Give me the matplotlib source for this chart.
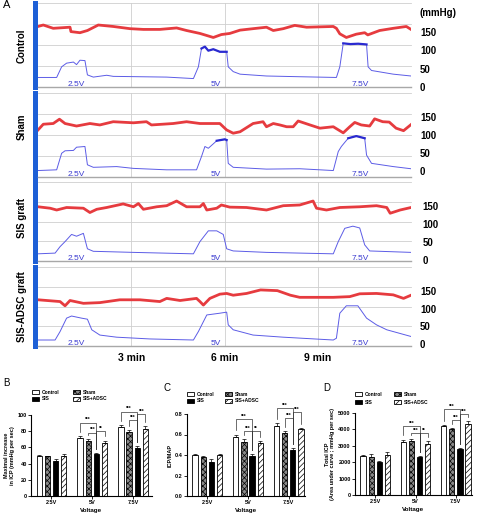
import numpy as np
import matplotlib
matplotlib.use('Agg')
import matplotlib.pyplot as plt
from matplotlib.patches import Rectangle

plt.rcParams['font.family'] = ['Liberation Sans', 'DejaVu Sans']
plt.rcParams['hatch.linewidth'] = 0.5

# ---------------- Panel A data (time in min, pressure in mmHg) ----------------
ctrl_red_t = [0.0, 0.17, 0.49, 1.03, 1.06, 1.35, 1.59, 1.73, 1.94, 2.42, 2.96, 3.39, 3.92, 4.46, 4.78,
              5.21, 5.64, 5.90, 6.17, 6.50, 6.92, 7.35, 7.57, 7.89, 8.26, 8.64, 9.50, 9.60, 9.71, 9.92,
              10.24, 10.51, 10.61, 10.99, 11.43, 11.85, 12.0]
ctrl_red_v = [165, 169, 160, 163, 151, 148, 154, 160, 169, 165, 159, 157, 157, 161, 154,
              146, 135, 143, 146, 155, 159, 163, 154, 159, 168, 163, 165, 160, 145, 135,
              144, 148, 142, 154, 160, 165, 157]
ctrl_blue_t = [0.0, 0.60, 0.76, 0.92, 1.14, 1.24, 1.35, 1.51, 1.59, 1.78, 2.21, 2.42, 3.28, 4.14, 5.0,
               5.16, 5.26, 5.37, 5.48, 5.64, 5.85, 6.07, 6.12, 6.28, 6.50, 7.35, 8.42, 9.60, 9.71, 9.82,
               10.05, 10.30, 10.57, 10.62, 10.73, 11.43, 12.0]
ctrl_blue_v = [26, 26, 55, 65, 68, 61, 73, 72, 33, 27, 32, 29, 28, 27, 23,
               55, 105, 110, 99, 103, 96, 96, 55, 42, 35, 30, 28, 26, 55, 119,
               117, 118, 116, 55, 45, 35, 30]

sham_red_t = [0.0, 0.17, 0.49, 0.69, 0.87, 1.24, 1.67, 1.99, 2.42, 3.07, 3.49, 3.65, 4.35, 4.78, 5.21,
              5.85, 6.07, 6.28, 6.50, 6.92, 7.24, 7.35, 7.57, 7.78, 8.0, 8.21, 8.37, 8.75, 9.07, 9.50,
              9.82, 10.03, 10.19, 10.40, 10.67, 10.83, 11.09, 11.30, 11.52, 11.76, 12.0]
sham_red_v = [114, 130, 132, 144, 132, 125, 132, 128, 137, 134, 137, 128, 132, 137, 132,
              132, 114, 105, 109, 132, 137, 123, 132, 128, 123, 123, 139, 128, 119, 123,
              106, 123, 135, 128, 125, 145, 137, 136, 119, 112, 129]
sham_blue_t = [0.0, 0.60, 0.76, 0.87, 1.14, 1.24, 1.51, 1.59, 1.78, 2.53, 3.07, 4.14, 5.10, 5.26, 5.37,
               5.48, 5.75, 6.01, 6.07, 6.12, 6.28, 7.35, 8.42, 9.50, 9.66, 9.76, 9.98, 10.24, 10.51, 10.57,
               10.73, 11.43, 12.0]
sham_blue_v = [1, 3, 49, 56, 57, 66, 68, 17, 10, 12, 7, 3, 3, 40, 68,
               63, 84, 88, 86, 21, 10, 5, 6, 1, 54, 68, 91, 97, 91, 44,
               21, 12, 6]

sis_red_t = [0.0, 0.39, 0.60, 0.92, 1.46, 1.67, 1.89, 2.21, 2.74, 3.07, 3.23, 3.39, 3.82, 4.14, 4.46,
             4.78, 5.21, 5.32, 5.43, 5.75, 5.90, 6.17, 6.71, 7.35, 7.89, 8.42, 8.85, 8.96, 9.28, 9.71,
             10.35, 10.89, 11.22, 11.33, 11.65, 12.0]
sis_red_v = [148, 144, 139, 146, 144, 132, 141, 146, 156, 148, 157, 141, 148, 151, 164,
             148, 148, 157, 139, 144, 153, 147, 146, 139, 151, 153, 164, 144, 139, 146,
             148, 151, 146, 130, 139, 146]
sis_blue_t = [0.0, 0.55, 0.71, 0.87, 1.08, 1.24, 1.46, 1.59, 1.78, 3.07, 5.0, 5.21, 5.48, 5.75, 5.96,
              6.07, 6.28, 7.35, 9.50, 9.66, 9.87, 10.13, 10.35, 10.51, 10.67, 12.0]
sis_blue_v = [17, 19, 37, 51, 71, 66, 74, 31, 24, 21, 17, 51, 81, 81, 71,
              31, 25, 21, 17, 51, 88, 94, 89, 42, 25, 21]

adsc_red_t = [0.0, 0.71, 0.87, 1.03, 1.46, 1.99, 2.63, 3.28, 3.92, 4.14, 4.57, 5.10, 5.21, 5.32, 5.53,
              5.85, 6.07, 6.28, 6.71, 7.16, 7.70, 8.12, 8.42, 8.96, 9.50, 10.03, 10.35, 10.89, 11.43, 11.76,
              12.0]
adsc_red_v = [125, 120, 108, 123, 115, 117, 125, 125, 120, 129, 123, 129, 120, 110, 129,
              141, 143, 138, 143, 153, 151, 138, 132, 132, 132, 134, 142, 143, 139, 129,
              138]
adsc_blue_t = [0.0, 0.55, 0.71, 0.92, 1.08, 1.40, 1.59, 1.73, 1.99, 2.53, 3.60, 5.0, 5.16, 5.43, 5.85,
               6.07, 6.12, 6.28, 6.92, 7.89, 9.50, 9.60, 9.71, 9.92, 10.29, 10.57, 10.89, 11.22, 12.0]
adsc_blue_v = [11, 11, 35, 73, 79, 73, 70, 40, 25, 19, 14, 11, 35, 82, 87,
               90, 54, 40, 25, 19, 11, 16, 87, 108, 108, 73, 54, 40, 21]

trace_names = ['Control', 'Sham', 'SIS graft', 'SIS-ADSC graft']
stim_labels = ['2.5V', '5V', '7.5V']
stim_times = [0.95, 5.55, 10.1]
time_ticks = [3, 6, 9]
time_tick_labels = ['3 min', '6 min', '9 min']
pressure_ticks = [0, 50, 100, 150]

# ---------------- Panels B, C, D data ----------------
voltages = ['2.5V', '5V', '7.5V']
groups = ['Control', 'Sham', 'SIS', 'SIS+ADSC']

b_control = [50, 72, 85]
b_sham = [49, 68, 79]
b_sis = [43, 52, 59]
b_adsc = [50, 65, 83]
b_control_err = [1.0, 2.0, 3.0]
b_sham_err = [1.0, 2.5, 3.0]
b_sis_err = [3.0, 1.5, 2.5]
b_adsc_err = [1.5, 3.5, 3.0]

c_control = [0.40, 0.58, 0.68]
c_sham = [0.38, 0.53, 0.61]
c_sis = [0.33, 0.39, 0.45]
c_adsc = [0.40, 0.52, 0.65]
c_control_err = [0.01, 0.02, 0.03]
c_sham_err = [0.01, 0.025, 0.025]
c_sis_err = [0.03, 0.015, 0.02]
c_adsc_err = [0.01, 0.02, 0.01]

d_control = [2400, 3250, 4180]
d_sham = [2330, 3280, 4020]
d_sis = [2000, 2320, 2800]
d_adsc = [2450, 3120, 4330]
d_control_err = [60, 130, 80]
d_sham_err = [150, 130, 60]
d_sis_err = [80, 80, 80]
d_adsc_err = [150, 180, 200]

# significance: (voltage index, group i, group j, bracket height, label)
b_sig = [(1, 0, 2, 90.5, '***'), (1, 1, 2, 78, '***'), (1, 2, 3, 80, '**'),
         (2, 0, 2, 104, '***'), (2, 1, 2, 94, '***'), (2, 2, 3, 101, '***')]
c_sig = [(1, 0, 2, 0.75, '***'), (1, 1, 2, 0.63, '***'), (1, 2, 3, 0.63, '**'),
         (2, 0, 2, 0.86, '***'), (2, 1, 2, 0.76, '***'), (2, 2, 3, 0.82, '***')]
d_sig = [(1, 0, 2, 4210, '***'), (1, 1, 2, 3780, '***'), (1, 2, 3, 3780, '**'),
         (2, 0, 2, 5240, '***'), (2, 1, 2, 4570, '***'), (2, 2, 3, 4940, '***')]

# ---------------- figure ----------------
W, H = 479, 516
fig = plt.figure(figsize=(W / 100, H / 100), dpi=100)


def rect(x0, y0, x1, y1):
    return [x0 / W, 1 - y1 / H, (x1 - x0) / W, (y1 - y0) / H]


RED = '#e63b3f'
BLUE = '#5c5ce6'
BAR_BLUE = '#1d5fd6'

trace_data = [
    (ctrl_red_t, ctrl_red_v, ctrl_blue_t, ctrl_blue_v),
    (sham_red_t, sham_red_v, sham_blue_t, sham_blue_v),
    (sis_red_t, sis_red_v, sis_blue_t, sis_blue_v),
    (adsc_red_t, adsc_red_v, adsc_blue_t, adsc_blue_v),
]
panel_px = [(3, 87), (93, 177), (182, 261), (267, 346)]
panel_ylim = [(0, 229), (-17, 217), (-3, 217), (-6, 218)]
label_pad = [6.5, 6.5, 8.5, 6.5]
name_y = [46, 127, 218, 307]

for k in range(4):
    top, bot = panel_px[k]
    ax = fig.add_axes(rect(38, top, 411, bot))
    rt, rv, bt, bv = trace_data[k]
    ax.set_xlim(0, 12)
    ax.set_ylim(*panel_ylim[k])
    # grid
    for f in [0.25, 0.5, 0.75, 1.0]:
        ax.plot([0, 1], [f, f], transform=ax.transAxes, color='#cfcfcf', lw=0.6, zorder=0, clip_on=False)
    for tt in time_ticks:
        ax.axvline(tt, color='#cfcfcf', lw=0.6, zorder=0)
    ax.plot(rt, rv, color=RED, lw=2.0, solid_joinstyle='round', zorder=3)
    ax.plot(bt, bv, color=BLUE, lw=0.7, zorder=2)
    if k < 2:
        bva = np.array(bv, dtype=float)
        thick = np.where(bva > 80, bva, np.nan)
        ax.plot(bt, thick, color='#2a2ad0', lw=1.6, zorder=2)
    for lab, st in zip(stim_labels, stim_times):
        ax.text(st, 0.035, lab, transform=ax.get_xaxis_transform(), color='#3a3ad0',
                fontsize=6, ha='left', va='center')
    for s in ['top', 'right']:
        ax.spines[s].set_visible(False)
    ax.spines['bottom'].set_color('#a8a8a8')
    ax.spines['bottom'].set_linewidth(1.0)
    ax.spines['left'].set_color(BAR_BLUE)
    ax.spines['left'].set_linewidth(3.6)
    ax.spines['left'].set_position(('outward', 2))
    ax.yaxis.tick_right()
    ax.set_yticks(pressure_ticks, labels=[str(v) for v in pressure_ticks], fontweight='bold')
    ax.tick_params(axis='y', length=0, pad=label_pad[k], labelsize=7)
    if k == 3:
        ax.set_xticks(time_ticks, labels=time_tick_labels, fontweight='bold')
        ax.tick_params(axis='x', length=0, pad=5, labelsize=7.5)
    else:
        ax.set_xticks([])
    fig.text(22 / W, 1 - name_y[k] / H, trace_names[k], rotation=90, fontsize=7,
             fontweight='bold', ha='center', va='center')

fig.text(420 / W, 1 - 13 / H, '(mmHg)', fontsize=7, fontweight='bold', ha='left', va='center')
fig.text(3 / W, 1 - 5 / H, 'A', fontsize=8, ha='left', va='center')

# ---------------- bar panels ----------------
offsets = np.array([-1.5, -0.5, 0.5, 1.5]) * 0.2
bw = 0.13
styles = [dict(facecolor='white', edgecolor='black'),
          dict(facecolor='#8a8a8a', edgecolor='black', hatch='xxxxxx'),
          dict(facecolor='black', edgecolor='black'),
          dict(facecolor='white', edgecolor='black', hatch='//////')]


def bar_panel(box, ylim, yticks, ytlabels, vals, errs, sig, ylabel, letter, letter_xy,
              leg_x, leg_dx, leg_y, xmax):
    ax = fig.add_axes(rect(*box))
    x = np.arange(len(voltages))
    for i in range(4):
        ax.bar(x + offsets[i], vals[i], bw, linewidth=0.6, zorder=2, **styles[i])
        ax.errorbar(x + offsets[i], vals[i], yerr=[np.zeros(3), errs[i]], fmt='none',
                    ecolor='black', elinewidth=0.5, capsize=1.2, capthick=0.5, zorder=3)
    span = ylim[1] - ylim[0]
    for (g, i, j, h, txt) in sig:
        x1, x2 = g + offsets[i], g + offsets[j]
        y1 = vals[i][g] + errs[i][g] + 0.05 * span
        y2 = vals[j][g] + errs[j][g] + 0.05 * span
        y1 = min(y1, h - 0.02 * span)
        y2 = min(y2, h - 0.02 * span)
        ax.plot([x1, x1, x2, x2], [y1, h, h, y2], color='#333333', lw=0.5, clip_on=False, zorder=4)
        ax.text((x1 + x2) / 2, h + 0.005 * span, txt, ha='center', va='bottom', fontsize=3.5,
                fontweight='bold', clip_on=False)
    ax.set_xlim(-0.5, xmax)
    ax.set_ylim(*ylim)
    ax.set_yticks(yticks, labels=ytlabels, fontweight='bold')
    ax.set_xticks(x, labels=voltages, fontweight='bold')
    ax.tick_params(axis='both', labelsize=4, length=2, width=0.6, pad=1)
    for s in ['top', 'right']:
        ax.spines[s].set_visible(False)
    for s in ['left', 'bottom']:
        ax.spines[s].set_linewidth(0.8)
    ax.set_xlabel('Voltage', fontsize=4.5, fontweight='bold', labelpad=2)
    ax.set_ylabel(ylabel, fontsize=4, fontweight='bold', labelpad=2, linespacing=1.1)
    fig.text(letter_xy[0] / W, 1 - letter_xy[1] / H, letter, fontsize=7, ha='left', va='center')
    # legend
    order = [(0, 0, 0), (1, 1, 0), (2, 0, 1), (3, 1, 1)]
    for gi, col, row in order:
        bx = leg_x + col * leg_dx
        by = leg_y[row]
        r = Rectangle((bx / W, 1 - (by + 2) / H), 7 / W, 4 / H, transform=fig.transFigure,
                      linewidth=0.6, **styles[gi])
        fig.add_artist(r)
        fig.text((bx + 10) / W, 1 - by / H, groups[gi], fontsize=3.5, fontweight='bold',
                 ha='left', va='center')
    return ax


bar_panel((31, 415, 152, 496), (0, 100), [0, 20, 40, 60, 80, 100],
          ['0', '20', '40', '60', '80', '100'],
          [b_control, b_sham, b_sis, b_adsc],
          [b_control_err, b_sham_err, b_sis_err, b_adsc_err], b_sig,
          'Maximal increase\nin ICP (mmHg per sec)', 'B', (3, 383), 32, 41, (392, 399), 2.46)

bar_panel((187, 414, 305, 496), (0, 0.8), [0, 0.2, 0.4, 0.6, 0.8],
          ['0.0', '0.2', '0.4', '0.6', '0.8'],
          [c_control, c_sham, c_sis, c_adsc],
          [c_control_err, c_sham_err, c_sis_err, c_adsc_err], c_sig,
          'ICP/MAP', 'C', (163, 388), 187, 38, (394, 401), 2.40)

bar_panel((355, 413, 472, 495), (0, 5000), [0, 1000, 2000, 3000, 4000, 5000],
          ['0', '1000', '2000', '3000', '4000', '5000'],
          [d_control, d_sham, d_sis, d_adsc],
          [d_control_err, d_sham_err, d_sis_err, d_adsc_err], d_sig,
          'Total ICP\n(Area under curve ; mmHg per sec)', 'D', (323, 388), 355, 39, (394, 402), 2.40)

fig.savefig('out.png', dpi=100)
